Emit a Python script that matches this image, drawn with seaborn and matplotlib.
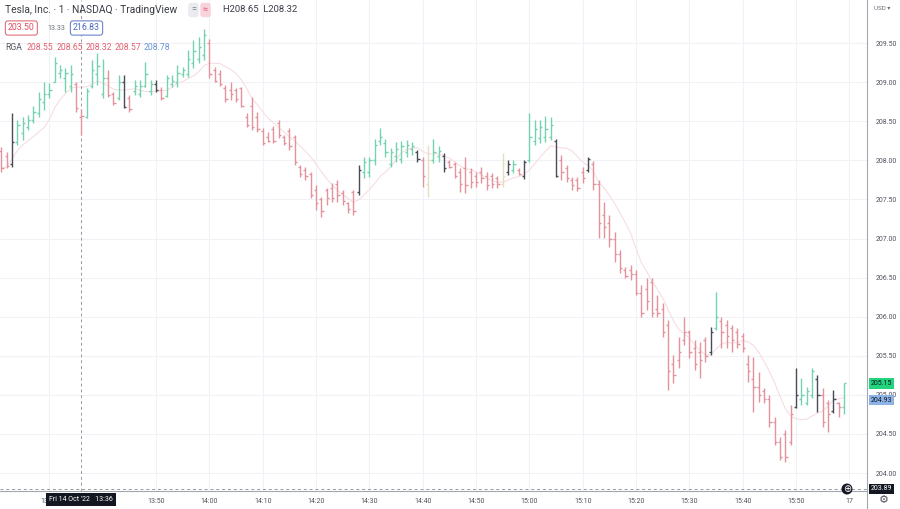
import numpy as np
import pandas as pd
import matplotlib.pyplot as plt
import seaborn as sns

# -------------------- Data --------------------
# one bar per minute, Fri 14 Oct '22, first bar 13:21
bar_open = [
    208.12, 208.05, 207.95, 208.23, 208.35, 208.42, 208.52, 208.60, 208.75, 208.85,
    209.00, 209.12, 209.05, 208.95, 208.98, 208.55, 208.55, 208.95, 209.10, 208.85,
    209.05, 208.85, 208.80, 209.00, 208.80, 208.88, 208.85, 208.95, 208.88, 208.98,
    208.90, 208.82, 208.98, 209.00, 209.10, 209.10, 209.25, 209.30, 209.35, 209.50,
    209.15, 209.10, 208.93, 208.90, 208.90, 208.92, 208.55, 208.70, 208.55, 208.38,
    208.30, 208.40, 208.48, 208.30, 208.38, 208.30, 207.92, 207.88, 207.82, 207.62,
    207.50, 207.62, 207.65, 207.70, 207.58, 207.45, 207.60, 207.60, 207.85, 207.85,
    208.00, 208.25, 208.22, 207.95, 208.05, 208.02, 208.10, 208.15, 208.10, 208.00,
    207.70, 208.00, 208.05, 208.05, 207.98, 207.95, 207.85, 207.90, 207.85, 207.80,
    207.85, 207.80, 207.80, 207.78, 207.70, 207.85, 207.88, 207.88, 207.80, 208.00,
    208.25, 208.28, 208.30, 208.30, 208.25, 208.00, 207.90, 207.75, 207.75, 207.85,
    207.88, 207.95, 207.70, 207.30, 207.20, 207.00, 206.80, 206.60, 206.60, 206.55,
    206.30, 206.35, 206.45, 206.10, 206.10, 205.90, 205.40, 205.45, 205.70, 205.80,
    205.60, 205.55, 205.70, 205.55, 205.85, 205.95, 205.90, 205.85, 205.80, 205.75,
    205.40, 205.20, 205.10, 205.05, 204.95, 204.65, 204.40, 204.50, 204.40, 204.85,
    204.95, 204.90, 205.00, 205.20, 205.00, 204.90, 204.80, 204.90, 204.85,
]
bar_high = [
    208.17, 208.11, 208.61, 208.52, 208.55, 208.58, 208.69, 208.87, 209.00, 208.99,
    209.32, 209.22, 209.18, 209.22, 209.00, 208.65, 208.92, 209.28, 209.37, 209.30,
    209.15, 208.87, 209.09, 209.09, 208.83, 209.03, 209.03, 209.26, 209.03, 209.03,
    208.94, 209.09, 209.09, 209.22, 209.19, 209.41, 209.54, 209.58, 209.68, 209.55,
    209.19, 209.15, 208.96, 209.00, 208.92, 208.94, 208.61, 208.81, 208.62, 208.41,
    208.36, 208.44, 208.52, 208.32, 208.41, 208.32, 207.94, 207.91, 207.85, 207.68,
    207.53, 207.65, 207.71, 207.75, 207.62, 207.47, 207.62, 207.94, 208.04, 208.04,
    208.27, 208.41, 208.27, 208.16, 208.23, 208.25, 208.26, 208.23, 208.13, 208.04,
    208.20, 208.27, 208.18, 208.09, 208.00, 207.98, 207.90, 208.04, 207.90, 207.85,
    207.91, 207.85, 207.84, 207.80, 208.09, 208.00, 208.00, 207.90, 208.00, 208.61,
    208.52, 208.52, 208.57, 208.55, 208.27, 208.07, 207.94, 207.79, 207.79, 207.91,
    208.04, 207.99, 207.75, 207.47, 207.30, 207.08, 206.85, 206.63, 206.66, 206.60,
    206.41, 206.50, 206.50, 206.28, 206.18, 205.96, 205.51, 205.74, 205.99, 205.83,
    205.70, 205.68, 205.74, 205.87, 206.32, 205.99, 205.96, 205.89, 205.86, 205.79,
    205.51, 205.48, 205.29, 205.09, 205.00, 204.72, 204.46, 204.55, 204.87, 205.34,
    205.22, 205.10, 205.34, 205.25, 205.09, 204.93, 205.06, 204.91, 205.15,
]
bar_low = [
    207.85, 207.90, 207.91, 208.20, 208.26, 208.39, 208.48, 208.55, 208.64, 208.80,
    209.00, 209.05, 208.87, 208.87, 208.62, 208.32, 208.54, 208.92, 208.96, 208.80,
    208.81, 208.71, 208.77, 208.67, 208.62, 208.83, 208.81, 208.94, 208.83, 208.87,
    208.77, 208.81, 208.94, 208.94, 209.07, 209.07, 209.18, 209.24, 209.28, 209.05,
    209.00, 208.95, 208.75, 208.77, 208.75, 208.68, 208.43, 208.39, 208.36, 208.20,
    208.23, 208.22, 208.29, 208.20, 208.13, 207.94, 207.79, 207.75, 207.52, 207.36,
    207.27, 207.43, 207.47, 207.47, 207.43, 207.33, 207.30, 207.56, 207.77, 207.79,
    207.94, 208.20, 208.04, 207.91, 207.98, 207.97, 208.04, 208.07, 207.98, 207.66,
    207.53, 207.97, 207.98, 207.85, 207.90, 207.77, 207.59, 207.58, 207.65, 207.66,
    207.71, 207.62, 207.65, 207.65, 207.66, 207.81, 207.84, 207.81, 207.76, 207.98,
    208.20, 208.22, 208.23, 208.26, 207.79, 207.75, 207.72, 207.62, 207.61, 207.71,
    207.85, 207.62, 207.01, 207.01, 206.89, 206.70, 206.56, 206.49, 206.47, 206.28,
    206.00, 206.09, 206.00, 206.00, 205.74, 205.06, 205.15, 205.34, 205.64, 205.47,
    205.32, 205.22, 205.42, 205.51, 205.83, 205.60, 205.60, 205.55, 205.60, 205.55,
    205.17, 204.78, 204.91, 204.90, 204.59, 204.36, 204.17, 204.14, 204.36, 204.83,
    204.87, 204.87, 204.96, 204.78, 204.59, 204.52, 204.77, 204.72, 204.76,
]
bar_close = [
    207.90, 207.93, 208.23, 208.45, 208.48, 208.52, 208.62, 208.78, 208.85, 208.90,
    209.25, 209.15, 209.12, 209.10, 208.67, 208.57, 208.88, 209.15, 209.20, 209.05,
    208.83, 208.73, 209.00, 208.68, 208.65, 208.95, 208.95, 209.10, 208.98, 208.90,
    208.80, 209.05, 209.02, 209.12, 209.15, 209.30, 209.40, 209.45, 209.60, 209.10,
    209.02, 208.98, 208.78, 208.85, 208.78, 208.70, 208.45, 208.42, 208.40, 208.22,
    208.25, 208.25, 208.32, 208.22, 208.18, 207.98, 207.82, 207.80, 207.55, 207.45,
    207.35, 207.52, 207.52, 207.55, 207.48, 207.38, 207.35, 207.88, 207.98, 208.00,
    208.20, 208.30, 208.10, 208.10, 208.15, 208.18, 208.20, 208.18, 208.02, 207.80,
    208.00, 208.10, 208.12, 207.90, 207.92, 207.80, 207.70, 207.68, 207.72, 207.72,
    207.78, 207.68, 207.70, 207.70, 207.80, 207.95, 207.95, 207.83, 207.98, 208.30,
    208.40, 208.42, 208.40, 208.45, 207.80, 207.85, 207.78, 207.68, 207.65, 207.78,
    208.02, 207.70, 207.20, 207.15, 207.00, 206.80, 206.62, 206.52, 206.55, 206.30,
    206.05, 206.20, 206.05, 206.05, 205.80, 205.30, 205.25, 205.55, 205.80, 205.55,
    205.40, 205.45, 205.50, 205.80, 206.00, 205.80, 205.75, 205.70, 205.65, 205.60,
    205.30, 205.10, 205.00, 204.95, 204.65, 204.40, 204.20, 204.20, 204.75, 205.00,
    205.00, 205.05, 205.30, 205.00, 204.65, 204.75, 204.95, 204.85, 205.15,
]
# bar colour code: g = green, r = red, d = dark, y = neutral
bar_kind = (
    "rrd" "ggggggggggg" "rr" "gggg" "rr" "g" "d" "r" "gggg" "d" "r" "gggggggg"
    "rrrrrrrrrrrrrrrrrrrrrrrrrrrr" "d" "gggggggggg" "d" "r" "y" "gg" "d"
    "rrrrrrrrrr" "y" "d" "g" "r" "d" "ggggg" "d" "rrrrr" "d"
    "rrrrrrrrrrrrrrrrrrrrrr" "d" "g" "rrrrrrrrrrrrrr" "d" "ggg" "d" "rr" "d" "r" "g"
)

price_ticks = [204.0, 204.5, 205.0, 205.5, 206.0, 206.5, 207.0, 207.5, 208.0, 208.5, 209.0, 209.5]
# 13:40 sits under the crosshair time box in the original, so it is left out
time_ticks = [9, 29, 39, 49, 59, 69, 79, 89, 99, 109, 119, 129, 139, 149, 159]
time_labels = ["13:30", "13:50", "14:00", "14:10", "14:20", "14:30", "14:40",
               "14:50", "15:00", "15:10", "15:20", "15:30", "15:40", "15:50", "17"]

legend_ohlc = ["208.55", "208.65", "208.32", "208.57"]
legend_ma = "208.78"
crosshair_bar = 15
crosshair_price = 203.80

df = pd.DataFrame({"open": bar_open, "high": bar_high, "low": bar_low,
                   "close": bar_close, "kind": list(bar_kind)})
df["t"] = np.arange(len(df))
df["ma"] = df["close"].rolling(9, min_periods=1).mean()

palette = {"g": "#74d3ae", "r": "#e3939d", "d": "#4a4b57", "y": "#e6dfbd"}
cols = df["kind"].map(palette)

# -------------------- Figure --------------------
sns.set_style("white")
plt.rcParams["font.family"] = ["Roboto", "DejaVu Sans"]

W, H = 900, 509
fig = plt.figure(figsize=(9, 5.09), dpi=100)
ax = fig.add_axes([0, 18 / H, 867 / W, 491 / H])


def fx(x):
    return x / W


def fy(y):
    return 1 - y / H


ax.set_xlim(-0.28, 162.3)
ax.set_ylim(203.771, 210.05)

# faint moving average line
sns.lineplot(data=df, x="t", y="ma", ax=ax, color="#f7dde1", lw=0.8, zorder=1)

# OHLC bars
ax.vlines(df["t"], df["low"], df["high"], colors=cols, lw=1.0, zorder=3)
ax.hlines(df["open"], df["t"] - 0.42, df["t"], colors=cols, lw=1.0, zorder=3)
ax.hlines(df["close"], df["t"], df["t"] + 0.42, colors=cols, lw=1.0, zorder=3)

# grid / axes
ax.set_yticks(price_ticks)
ax.set_yticklabels([f"{p:.2f}" for p in price_ticks])
ax.set_xticks(time_ticks)
ax.set_xticklabels(time_labels)
ax.grid(True, color="#f0f2f7", lw=0.8, zorder=0)
ax.yaxis.tick_right()
ax.tick_params(axis="y", length=0, pad=6, labelsize=5, labelcolor="#50535e")
ax.tick_params(axis="x", length=0, pad=5, labelsize=5, labelcolor="#50535e")
ax.set_xlabel("")
ax.set_ylabel("")
for s in ["top", "left"]:
    ax.spines[s].set_visible(False)
ax.spines["right"].set_color("#a3a6af")
ax.spines["bottom"].set_color("#a3a6af")
ax.spines["right"].set_linewidth(0.8)
ax.spines["bottom"].set_linewidth(0.8)
fig.add_artist(plt.Line2D([fx(867), fx(867)], [0, fy(491)], color="#a3a6af", lw=0.8))

# crosshair
ax.axvline(crosshair_bar, color="#9598a1", lw=0.7, ls=(0, (3, 3)), zorder=2)
ax.axhline(crosshair_price, color="#9598a1", lw=0.7, ls=(0, (3, 3)), zorder=2)

# -------------------- Legend texts --------------------
fig.text(fx(5), fy(10), "Tesla, Inc. · 1 · NASDAQ · TradingView", fontsize=7.4,
         color="#3a3d46", va="center")
fig.text(fx(191), fy(10), "=", fontsize=6.5, color="#787b86", va="center",
         bbox=dict(boxstyle="round,pad=0.3", fc="#e9ebf0", ec="none"))
fig.text(fx(203), fy(10), "≈", fontsize=6.5, color="#e0506a", va="center",
         bbox=dict(boxstyle="round,pad=0.3", fc="#f9d3dc", ec="none"))
fig.text(fx(223), fy(10), "H208.65  L208.32", fontsize=6.8, color="#3a3d46", va="center")

fig.text(fx(8), fy(28), "203.50", fontsize=6.3, color="#e04c5c", va="center",
         bbox=dict(boxstyle="round,pad=0.3", fc="white", ec="#e0707c", lw=0.8))
fig.text(fx(47), fy(28), "13.33", fontsize=5, color="#6a6d78", va="center")
fig.text(fx(73), fy(28), "216.83", fontsize=6.3, color="#4a68c0", va="center",
         bbox=dict(boxstyle="round,pad=0.3", fc="white", ec="#6d86cc", lw=0.8))

fig.text(fx(5), fy(47), "RGA", fontsize=6.2, color="#555862", va="center")
for i, v in enumerate(legend_ohlc):
    fig.text(fx(27 + 29.2 * i), fy(47), v, fontsize=6.2, color="#e0606e", va="center")
fig.text(fx(144), fy(47), legend_ma, fontsize=6.2, color="#6b93d6", va="center")

# -------------------- Right scale extras --------------------
fig.text(fx(874), fy(8), "USD ▾", fontsize=4.5, color="#6a6d78", va="center")
fig.text(fx(871), fy(383.5), "205.15", fontsize=5, color="#131722", va="center",
         bbox=dict(boxstyle="square,pad=0.25", fc="#22d47c", ec="none"))
fig.text(fx(871), fy(400), "204.93", fontsize=5, color="#131722", va="center",
         bbox=dict(boxstyle="square,pad=0.25", fc="#8db2e6", ec="none"))
fig.text(fx(871), fy(489), "203.89", fontsize=5, color="white", va="center",
         bbox=dict(boxstyle="square,pad=0.25", fc="#131722", ec="none"))
fig.text(fx(847), fy(489), "⊕", fontsize=7, color="white", va="center", ha="center",
         family="DejaVu Sans",
         bbox=dict(boxstyle="circle,pad=0.05", fc="#131722", ec="none"))

# crosshair time label
fig.text(fx(81), fy(499.5), "Fri 14 Oct '22   13:36", fontsize=5, color="white",
         va="center", ha="center", zorder=10,
         bbox=dict(boxstyle="square,pad=0.45", fc="#131722", ec="none"))

fig.text(fx(884), fy(500), "⚙", fontsize=8, color="#50535e", va="center", ha="center",
         family="DejaVu Sans")

fig.savefig("out.png", dpi=100)
plt.close(fig)
